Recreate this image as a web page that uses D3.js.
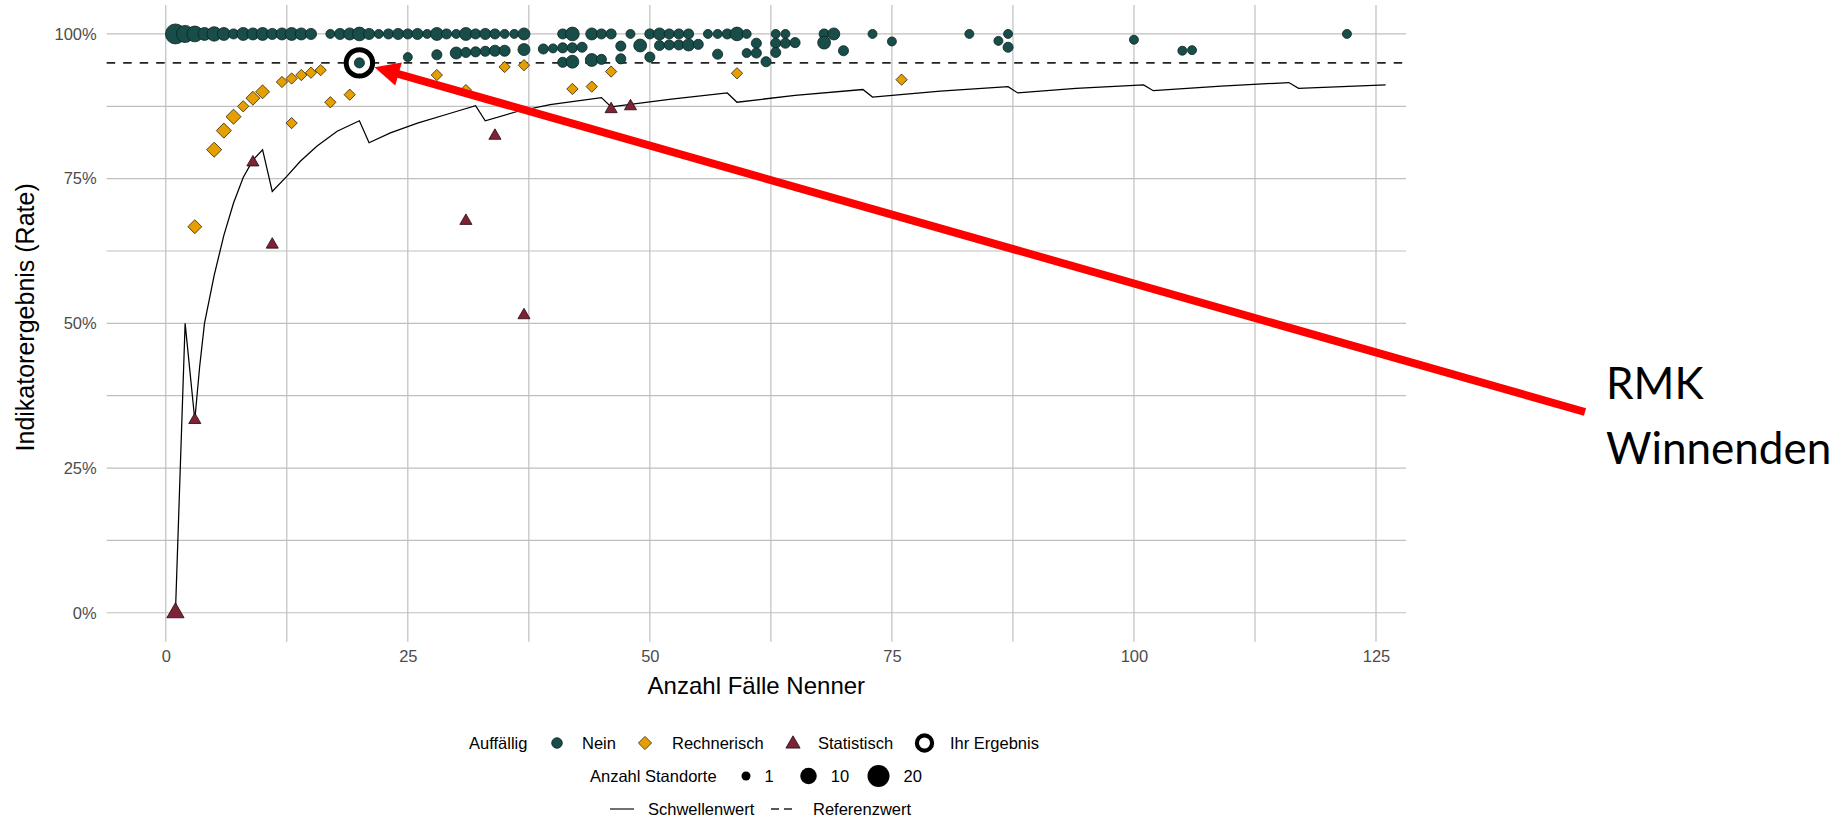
<!DOCTYPE html>
<html>
<head>
<meta charset="utf-8">
<script src="https://cdn.jsdelivr.net/npm/d3@7"></script>
<style>
  body { margin: 0; background: #fff; }
  svg { display: block; font-family: "Liberation Sans", Arial, sans-serif; }
</style>
</head>
<body>
<svg id="canvas" width="1848" height="818"></svg>
<script>
// every point is [Anzahl Faelle Nenner, Rate in %, Anzahl Standorte]
let neinPoints = [
  [1,100,16],[2,100,11],[3,100,9],[4,100,5],[5,100,7],[6,100,5],[7,100,2],[8,100,5],[9,100,4],[10,100,5],
  [11,100,3],[12,100,4],[13,100,5],[14,100,4],[15,100,3],[17,100,1],[18,100,3],[19,100,4],[20,100,6],[21,100,3],
  [22,100,1],[23,100,2],[24,100,3],[25,100,2],[26,100,3],[27,100,1],[28,100,5],[29,100,2],[30,100,1],[31,100,5],
  [32,100,2],[33,100,3],[34,100,2],[35,100,1],[36,100,1],[37,100,4],[41,100,2],[42,100,6],[44,100,4],[45,100,2],
  [46,100,2],[48,100,1],[50,100,2],[51,100,4],[52,100,2],[53,100,2],[54,100,2],[56,100,1],[57,100,1],[58,100,2],
  [59,100,6],[60,100,1],[63,100,1],[64,100,1],[68,100,2],[69,100,4],[73,100,1],[83,100,1],[87,100,1],[122,100,1],
  [25,96,1],[28,96.4,2],[30,96.7,4],[31,96.8,2],[32,96.9,2],[33,97,2],[34,97.1,3],[35,97.1,3],[37,97.3,4],[39,97.4,2],
  [40,97.5,1],[41,97.6,2],[42,97.6,2],[43,97.7,2],[47,97.9,2],[49,98,5],[51,98,2],[52,98.1,2],[53,98.1,2],[54,98.1,4],
  [55,98.2,2],[61,98.4,2],[63,98.4,2],[64,98.4,2],[65,98.5,2],[68,98.5,5],[75,98.7,1],[86,98.8,1],[100,99,1],[87,97.7,2],
  [105,97.1,1],[106,97.2,1],[57,96.5,2],[60,96.7,1],[61,96.7,2],[63,96.8,2],[70,97.1,2],[47,95.7,2],[50,96,2],[41,95.1,2],
  [42,95.2,5],[44,95.5,5],[45,95.6,2],[62,95.2,2]
]
let rechnerischPoints = [
  [3,66.7,3],[5,80,4],[6,83.3,4],[7,85.7,4],[8,87.5,1],[9,88.9,3],[10,90,3],[12,91.7,1],[13,92.3,1],[14,92.9,1],
  [15,93.3,1],[16,93.75,1],[13,84.6,1],[17,88.2,1],[19,89.5,1],[28,92.9,1],[31,90.3,1],[35,94.3,1],[37,94.6,1],[42,90.5,1],
  [44,90.9,1],[46,93.5,1],[59,93.2,1],[76,92.1,1]
]
let statistischPoints = [
  [1,0,5],[3,33.3,1],[9,77.8,1],[11,63.6,1],[31,67.7,1],[34,82.4,1],[37,51.4,1],[46,87,1],[48,87.5,1]
]
let ihrErgebnis = [20, 95, 2]

// Schwellenwert
let schwelleX = [1,2,3,3.5,4,5,6,7,8,9,10,11,12.5,13.9,15.6,17.7,20,21,23.2,26,29.4,32,33,36.3,39.7,45,46,52,58,59,65,72,73,80,87,88,94,101,102,109,116,117,126]
let schwelleY = [0,50,33.3,42.5,50,58.3,65.2,70.8,75.2,78.2,80,72.8,75.4,78,80.6,83.2,85,81.2,82.9,84.6,86.3,87.6,85,86.6,87.8,89,87.4,88.7,89.8,88.2,89.4,90.4,89.1,90.1,90.9,89.8,90.6,91.2,90.2,91,91.6,90.6,91.2]
let referenzwert = 95

let xTicks = [0,25,50,75,100,125]
let yTicks = [0,25,50,75,100]
let sizeLegend = [1,10,20]

let colNein = '#184d4a'
let colRech = '#e69f00'
let colStat = '#7e2236'
let colGrid = '#bfbfbf'

let svg = d3.select('#canvas')

let panel = {left: 106.7, right: 1406, top: 5, bottom: 641.7}

let x = d3.scaleLinear().domain([-6.1, 128.1]).range([panel.left, panel.right])
let y = d3.scaleLinear().domain([-5, 105]).range([panel.bottom, panel.top])
// ggplot scale_size: area linear in the value
let r = d3.scaleRadial().domain([1, 20]).range([4.5, 11])

// shapes with the same area as the circle (like R pch 21/23/24)
let diamond = (cx, cy, h) => `M${cx},${cy - h}L${cx + h},${cy}L${cx},${cy + h}L${cx - h},${cy}Z`
let triangle = (cx, cy, R) => {
  let xc = R * 0.866, yc = R * 0.5
  return `M${cx},${cy - R}L${cx + xc},${cy + yc}L${cx - xc},${cy + yc}Z`
}

// grid, major and minor look the same here
let mids = (t) => d3.pairs(t).map(p => (p[0] + p[1]) / 2)
let grid = svg.append('g')
grid.selectAll('.vx')
    .data(xTicks.concat(mids(xTicks)))
    .enter()
    .append('line')
    .attr('x1', d => x(d)).attr('x2', d => x(d))
    .attr('y1', panel.top).attr('y2', panel.bottom)
    .attr('stroke', colGrid).attr('stroke-width', 1.2)
grid.selectAll('.hy')
    .data(yTicks.concat(mids(yTicks)))
    .enter()
    .append('line')
    .attr('x1', panel.left).attr('x2', panel.right)
    .attr('y1', d => y(d)).attr('y2', d => y(d))
    .attr('stroke', colGrid).attr('stroke-width', 1.2)

// axes, only the labels
let xAxis = svg.append('g')
    .attr('transform', `translate(0,${panel.bottom})`)
    .call(d3.axisBottom(x).tickValues(xTicks).tickSize(0).tickPadding(9))
let yAxis = svg.append('g')
    .attr('transform', `translate(${panel.left},0)`)
    .call(d3.axisLeft(y).tickValues(yTicks).tickSize(0).tickPadding(10).tickFormat(d => d + '%'))
svg.selectAll('.domain').remove()
svg.selectAll('.tick text')
   .attr('font-size', 16.5)
   .attr('fill', '#4d4d4d')
   .attr('font-family', '"Liberation Sans", Arial, sans-serif')

svg.append('text')
   .attr('x', (panel.left + panel.right) / 2)
   .attr('y', 694)
   .attr('text-anchor', 'middle')
   .attr('font-size', 24)
   .text('Anzahl Fälle Nenner')
svg.append('text')
   .attr('transform', `translate(34,${(panel.top + panel.bottom) / 2 - 6}) rotate(-90)`)
   .attr('text-anchor', 'middle')
   .attr('font-size', 25)
   .text('Indikatorergebnis (Rate)')

// Schwellenwert line
let line = d3.line()
    .x((d, i) => x(schwelleX[i]))
    .y(d => y(d))
svg.append('path')
   .attr('d', line(schwelleY))
   .attr('fill', 'none')
   .attr('stroke', '#000')
   .attr('stroke-width', 1.25)

// Referenzwert
svg.append('line')
   .attr('x1', panel.left).attr('x2', panel.right)
   .attr('y1', y(referenzwert)).attr('y2', y(referenzwert))
   .attr('stroke', '#222')
   .attr('stroke-width', 1.7)
   .attr('stroke-dasharray', '8.5,8')

// points
let pts = svg.append('g')
pts.selectAll('.nein')
   .data(neinPoints)
   .enter()
   .append('circle')
   .attr('cx', d => x(d[0]))
   .attr('cy', d => y(d[1]))
   .attr('r', d => r(d[2]))
   .attr('fill', colNein)
   .attr('stroke', '#0b2322')
   .attr('stroke-width', 0.8)
pts.selectAll('.rech')
   .data(rechnerischPoints)
   .enter()
   .append('path')
   .attr('d', d => diamond(x(d[0]), y(d[1]), r(d[2]) * 1.2533))
   .attr('fill', colRech)
   .attr('stroke', '#2e2206')
   .attr('stroke-width', 0.8)
pts.selectAll('.stat')
   .data(statistischPoints)
   .enter()
   .append('path')
   .attr('d', d => triangle(x(d[0]), y(d[1]), r(d[2]) * 1.5551))
   .attr('fill', colStat)
   .attr('stroke', '#240810')
   .attr('stroke-width', 0.8)

// Ihr Ergebnis: ring and the point inside
let ringR = 13.2
svg.append('circle')
   .attr('cx', x(ihrErgebnis[0])).attr('cy', y(ihrErgebnis[1]))
   .attr('r', ringR)
   .attr('fill', '#fff')
   .attr('stroke', '#000')
   .attr('stroke-width', 5)
svg.append('circle')
   .attr('cx', x(ihrErgebnis[0])).attr('cy', y(ihrErgebnis[1]))
   .attr('r', r(ihrErgebnis[2]))
   .attr('fill', colNein)
   .attr('stroke', '#0b2322')
   .attr('stroke-width', 0.8)

// legend
let leg = svg.append('g').attr('font-size', 16.5).attr('fill', '#000')
let row1 = 743, row2 = 776, row3 = 809
let legText = (tx, ty, s) => leg.append('text').attr('x', tx).attr('y', ty).attr('dy', '0.35em').text(s)

legText(469, row1, 'Auffällig')
leg.append('circle').attr('cx', 557).attr('cy', row1).attr('r', 5.3)
   .attr('fill', colNein).attr('stroke', '#0b2322').attr('stroke-width', 0.8)
legText(582, row1, 'Nein')
leg.append('path').attr('d', diamond(645, row1, 6.6))
   .attr('fill', colRech).attr('stroke', '#2e2206').attr('stroke-width', 0.8)
legText(672, row1, 'Rechnerisch')
leg.append('path').attr('d', triangle(793, row1 + 1, 8.2))
   .attr('fill', colStat).attr('stroke', '#240810').attr('stroke-width', 0.8)
legText(818, row1, 'Statistisch')
leg.append('circle').attr('cx', 924.5).attr('cy', row1).attr('r', 7.6)
   .attr('fill', '#fff').attr('stroke', '#000').attr('stroke-width', 4.2)
legText(950, row1, 'Ihr Ergebnis')

legText(590, row2, 'Anzahl Standorte')
let sizeX = [746, 808.5, 878.5]
sizeLegend.forEach((v, i) => {
  leg.append('circle').attr('cx', sizeX[i]).attr('cy', row2).attr('r', r(v)).attr('fill', '#000')
  legText(sizeX[i] + r(v) + 14, row2, String(v))
})

leg.append('line').attr('x1', 610).attr('x2', 634).attr('y1', row3).attr('y2', row3)
   .attr('stroke', '#111').attr('stroke-width', 1.2)
legText(648, row3, 'Schwellenwert')
leg.append('line').attr('x1', 771).attr('x2', 797).attr('y1', row3).attr('y2', row3)
   .attr('stroke', '#222').attr('stroke-width', 1.5).attr('stroke-dasharray', '8,5')
legText(813, row3, 'Referenzwert')

// red arrow pointing at "Ihr Ergebnis"
let tail = [1585, 412]
let cx0 = x(ihrErgebnis[0]), cy0 = y(ihrErgebnis[1])
let dx = tail[0] - cx0, dy = tail[1] - cy0
let len = Math.sqrt(dx * dx + dy * dy)
let ux = dx / len, uy = dy / len
let tip = [cx0 + ux * (ringR + 2.5), cy0 + uy * (ringR + 2.5)]
let headL = 25, headW = 12
let base = [tip[0] + ux * headL, tip[1] + uy * headL]
svg.append('line')
   .attr('x1', tail[0]).attr('y1', tail[1])
   .attr('x2', base[0] + ux * -2).attr('y2', base[1] + uy * -2)
   .attr('stroke', '#ff0000')
   .attr('stroke-width', 8)
svg.append('path')
   .attr('d', `M${tip[0]},${tip[1]}L${base[0] - uy * headW},${base[1] + ux * headW}L${base[0] + uy * headW},${base[1] - ux * headW}Z`)
   .attr('fill', '#ff0000')

let note = svg.append('g').attr('font-family', 'Lato, "Open Sans", sans-serif').attr('font-size', 44).attr('fill', '#000')
note.append('text').attr('x', 1606).attr('y', 399).text('RMK')
note.append('text').attr('x', 1606).attr('y', 464).text('Winnenden')
</script>
</body>
</html>
